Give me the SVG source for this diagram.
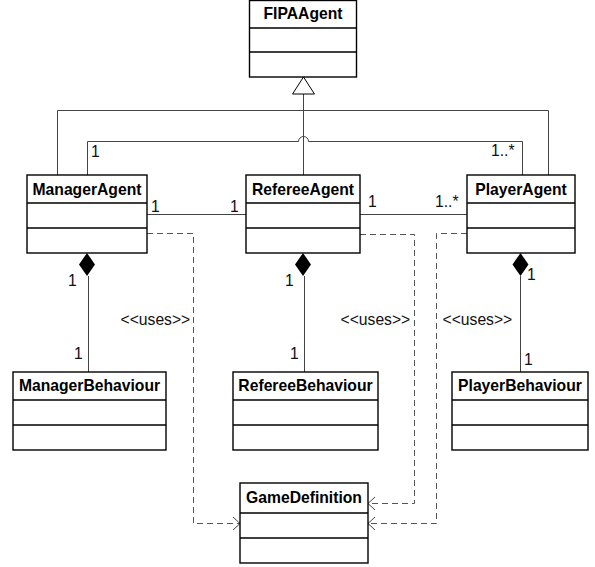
<svg xmlns="http://www.w3.org/2000/svg" width="595" height="567" viewBox="0 0 595 567">
<style>
.box{fill:#fff;stroke:#000;stroke-width:1.4}
.div{stroke:#000;stroke-width:1.4}
.t{font-family:"Liberation Sans",Arial,sans-serif;font-weight:bold;font-size:15.7px;fill:#000;text-anchor:middle}
.lb{font-family:"Liberation Sans",Arial,sans-serif;font-size:15.7px;fill:#111}
.ln{fill:none;stroke:#444;stroke-width:1}
.dash{fill:none;stroke:#555;stroke-width:1;stroke-dasharray:6,4}
.arr{fill:none;stroke:#444;stroke-width:1}
</style>
<rect width="595" height="567" fill="#fff"/>
<g id="connectors">
  <path class="ln" d="M303.5,94 V110.5 M57.5,175 V110.5 H548.5 V175 M303.5,110.5 V175"/>
  <polygon points="303.5,77 314.5,94 292.5,94" fill="#fff" stroke="#000" stroke-width="1"/>
  <path class="ln" d="M87.5,175 V141.5 H298.5 A5,5 0 0 1 308.5,141.5 H522.5 V175"/>
  <path class="ln" d="M147,214.5 H246 M360,214.5 H467"/>
  <path class="ln" d="M88.5,276 V372 M304.5,276 V372 M520.5,276 V372"/>
  <polygon points="87,253 95,264.5 87,276 79,264.5" fill="#000"/>
  <polygon points="303,253 311,264.5 303,276 295,264.5" fill="#000"/>
  <polygon points="520.5,253 528.5,264.5 520.5,276 512.5,264.5" fill="#000"/>
  <path class="dash" d="M147,233.5 H193.5 V523.5 H240"/>
  <path class="arr" d="M233,517 L240,523.5 L233,530"/>
  <path class="dash" d="M360,234.5 H414.5 V503.5 H368"/>
  <path class="arr" d="M375,497 L368,503.5 L375,510"/>
  <path class="dash" d="M467,233.5 H436.5 V523.5 H368"/>
  <path class="arr" d="M375,517 L368,523.5 L375,530"/>
  <text class="lb" x="91" y="157">1</text>
  <text class="lb" x="491" y="156">1..*</text>
  <text class="lb" x="151" y="212">1</text>
  <text class="lb" x="230" y="212">1</text>
  <text class="lb" x="368" y="207">1</text>
  <text class="lb" x="435" y="207">1..*</text>
  <text class="lb" x="68" y="286">1</text>
  <text class="lb" x="74" y="359">1</text>
  <text class="lb" x="285" y="286">1</text>
  <text class="lb" x="290" y="359">1</text>
  <text class="lb" x="527" y="280">1</text>
  <text class="lb" x="524" y="365">1</text>
  <text class="lb" x="120.5" y="325">&lt;&lt;uses&gt;&gt;</text>
  <text class="lb" x="340.5" y="325">&lt;&lt;uses&gt;&gt;</text>
  <text class="lb" x="442.5" y="325">&lt;&lt;uses&gt;&gt;</text>
</g>
<g id="FIPAAgent">
  <rect class="box" x="249.5" y="0.5" width="107" height="76.5"/>
  <path class="div" d="M249.5,28 H356.5 M249.5,52 H356.5"/>
  <text class="t" x="303" y="19">FIPAAgent</text>
</g>
<g id="ManagerAgent">
  <rect class="box" x="27" y="175" width="120" height="78"/>
  <path class="div" d="M27,203 H147 M27,228 H147"/>
  <text class="t" x="87" y="195">ManagerAgent</text>
</g>
<g id="RefereeAgent">
  <rect class="box" x="246" y="175" width="114" height="78"/>
  <path class="div" d="M246,203 H360 M246,228 H360"/>
  <text class="t" x="303" y="195">RefereeAgent</text>
</g>
<g id="PlayerAgent">
  <rect class="box" x="467" y="175" width="108" height="78"/>
  <path class="div" d="M467,203 H575 M467,228 H575"/>
  <text class="t" x="521" y="195">PlayerAgent</text>
</g>
<g id="ManagerBehaviour">
  <rect class="box" x="13" y="372" width="153" height="78"/>
  <path class="div" d="M13,400 H166 M13,425 H166"/>
  <text class="t" x="89.5" y="391">ManagerBehaviour</text>
</g>
<g id="RefereeBehaviour">
  <rect class="box" x="233" y="372" width="145" height="78"/>
  <path class="div" d="M233,400 H378 M233,425 H378"/>
  <text class="t" x="305.5" y="391">RefereeBehaviour</text>
</g>
<g id="PlayerBehaviour">
  <rect class="box" x="452" y="372" width="136" height="78"/>
  <path class="div" d="M452,400 H588 M452,425 H588"/>
  <text class="t" x="520" y="391">PlayerBehaviour</text>
</g>
<g id="GameDefinition">
  <rect class="box" x="240" y="483" width="128" height="80"/>
  <path class="div" d="M240,513 H368 M240,538 H368"/>
  <text class="t" x="304" y="503">GameDefinition</text>
</g>
</svg>
